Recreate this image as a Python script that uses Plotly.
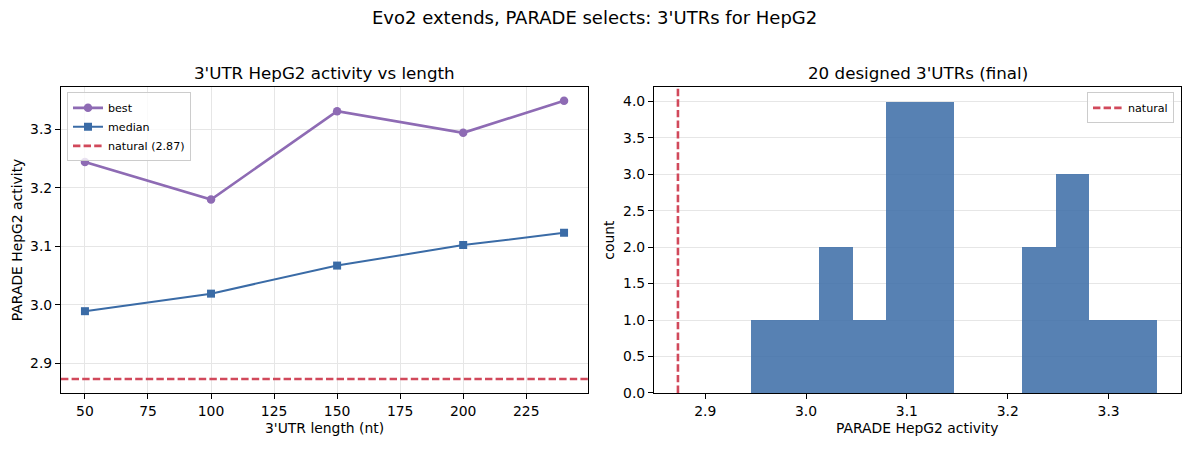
import plotly.graph_objects as go

# ---------------- data ----------------
lengths = [50, 100, 150, 200, 240]
best_activity = [3.244, 3.180, 3.331, 3.294, 3.349]
median_activity = [2.989, 3.019, 3.067, 3.102, 3.123]
natural_activity = 2.873

hist_bin_start = 2.9455
hist_bin_end = 3.348
hist_counts = [1, 1, 2, 1, 4, 4, 0, 0, 2, 3, 1, 1]

left_xticks = [50, 75, 100, 125, 150, 175, 200, 225]
left_yticks = [2.9, 3.0, 3.1, 3.2, 3.3]
right_xticks = [2.9, 3.0, 3.1, 3.2, 3.3]
right_yticks = [0.0, 0.5, 1.0, 1.5, 2.0, 2.5, 3.0, 3.5, 4.0]

suptitle = "Evo2 extends, PARADE selects: 3'UTRs for HepG2"
left_title = "3'UTR HepG2 activity vs length"
right_title = "20 designed 3'UTRs (final)"

# ---------------- styling ----------------
W, H = 1189, 453
FONT = "DejaVu Sans"
C_BEST = "#8e6bb4"
C_MED = "#3a6ba6"
C_NAT = "#d1495b"
C_BAR = "rgba(58,107,166,0.85)"
GRID = "#e6e6e6"
DASH = "7.4px,3.2px"


def fx(p):
    return p / W


def fy(p):
    return 1 - p / H


def mpl_range(vals, m=0.05):
    lo, hi = min(vals), max(vals)
    pad = (hi - lo) * m
    return [lo - pad, hi + pad]


n_bins = len(hist_counts)
bw = (hist_bin_end - hist_bin_start) / n_bins
bin_centers = [hist_bin_start + bw * (i + 0.5) for i in range(n_bins)]

lx_range = mpl_range(lengths)
ly_range = mpl_range(best_activity + median_activity + [natural_activity])
rx_range = mpl_range([natural_activity, hist_bin_start, hist_bin_end])
ry_range = [0, max(hist_counts) * 1.05]

fig = go.Figure()

# left panel
fig.add_trace(go.Scatter(
    x=lengths, y=best_activity, mode="lines+markers", name="best",
    line=dict(color=C_BEST, width=2.6), marker=dict(symbol="circle", size=8.5, color=C_BEST),
    xaxis="x", yaxis="y", legend="legend"))
fig.add_trace(go.Scatter(
    x=lengths, y=median_activity, mode="lines+markers", name="median",
    line=dict(color=C_MED, width=2), marker=dict(symbol="square", size=8, color=C_MED),
    xaxis="x", yaxis="y", legend="legend"))
fig.add_trace(go.Scatter(
    x=lx_range, y=[natural_activity, natural_activity], mode="lines",
    name=f"natural ({natural_activity:.2f})",
    line=dict(color=C_NAT, width=2.6, dash=DASH),
    xaxis="x", yaxis="y", legend="legend"))

# right panel
fig.add_trace(go.Bar(
    x=bin_centers, y=hist_counts, width=[bw] * n_bins, marker=dict(color=C_BAR, line=dict(width=0)),
    showlegend=False, xaxis="x2", yaxis="y2"))
fig.add_trace(go.Scatter(
    x=[natural_activity, natural_activity], y=ry_range, mode="lines", name="natural",
    line=dict(color=C_NAT, width=2.6, dash=DASH),
    xaxis="x2", yaxis="y2", legend="legend2"))

axis_common = dict(
    showline=True, linecolor="black", linewidth=1.1, mirror=True,
    ticks="outside", ticklen=5, tickwidth=1.1, tickcolor="black",
    tickfont=dict(family=FONT, size=13.9, color="black"),
    zeroline=False, gridcolor=GRID, gridwidth=1,
)

y_dom = [fy(400), fy(88.3)]
fig.update_layout(
    width=W, height=H,
    margin=dict(l=0, r=0, t=0, b=0),
    paper_bgcolor="white", plot_bgcolor="white",
    font=dict(family=FONT, color="black"),
    bargap=0,
    xaxis=dict(domain=[fx(61), fx(588)], range=lx_range, tickvals=left_xticks,
               showgrid=True, anchor="y", **axis_common),
    yaxis=dict(domain=y_dom, range=ly_range, tickvals=left_yticks, tickformat=".1f",
               showgrid=True, anchor="x", **axis_common),
    xaxis2=dict(domain=[fx(654), fx(1181)], range=rx_range, tickvals=right_xticks, tickformat=".1f",
                showgrid=False, anchor="y2", **axis_common),
    yaxis2=dict(domain=y_dom, range=ry_range, tickvals=right_yticks, tickformat=".1f",
                showgrid=True, anchor="x2", **axis_common),
    legend=dict(x=fx(67), y=fy(94), xanchor="left", yanchor="top",
                bgcolor="rgba(255,255,255,0.8)", bordercolor="#cccccc", borderwidth=1,
                font=dict(family=FONT, size=11.1, color="black"), itemwidth=30,
                tracegroupgap=0),
    legend2=dict(x=fx(1174), y=fy(94), xanchor="right", yanchor="top",
                 bgcolor="rgba(255,255,255,0.8)", bordercolor="#cccccc", borderwidth=1,
                 font=dict(family=FONT, size=11.1, color="black"), itemwidth=30),
)

annots = [
    dict(text=suptitle, x=fx(594.5), y=fy(18), size=18),
    dict(text=left_title, x=fx(324.5), y=fy(74.5), size=16.7),
    dict(text=right_title, x=fx(917.5), y=fy(74.5), size=16.7),
    dict(text="3'UTR length (nt)", x=fx(324.5), y=fy(436), size=13.9),
    dict(text="PARADE HepG2 activity", x=fx(917.5), y=fy(436), size=13.9),
    dict(text="PARADE HepG2 activity", x=fx(16.5), y=fy(244), size=13.9, angle=-90),
    dict(text="count", x=fx(609), y=fy(244), size=13.9, angle=-90),
]
for a in annots:
    fig.add_annotation(
        text=a["text"], x=a["x"], y=a["y"], xref="paper", yref="paper",
        xanchor="center", yanchor="middle", showarrow=False,
        textangle=a.get("angle", 0),
        font=dict(family=FONT, size=a["size"], color="black"))

fig.write_html(
    "out.html",
    config={"displayModeBar": False},
    post_script="document.body.style.margin='0';document.body.style.overflow='hidden';",
)
